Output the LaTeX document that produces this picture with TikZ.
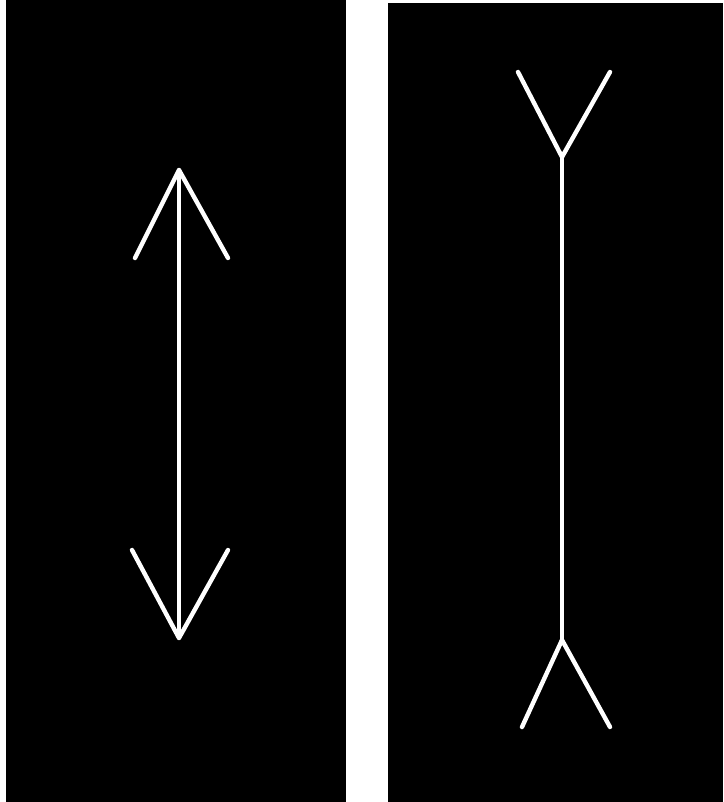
\documentclass[tikz,border=0pt]{standalone}
\begin{document}
\begin{tikzpicture}
[x=1pt,y=-1pt,panel/.style={fill=black},line/.style={draw=white, line width=4.4pt, line cap=round, line join=round}]
\def \lx {179}
\def \rx {562}
\useasboundingbox[fill=white] (0,0) rectangle (723,802);
\fill[panel] (6,0) rectangle (346,802);
\fill[panel] (388,3) rectangle (723,802);
% left figure, arrowheads pointing out
\coordinate (ltop) at (\lx,170);
\coordinate (lbot) at (\lx,638);
\coordinate (ltl) at (135,258);
\coordinate (ltr) at (228,258);
\coordinate (lbl) at (132,550);
\coordinate (lbr) at (228,550);
\draw[line] (ltop) to (lbot);
\draw[line] (ltl) to (ltop) to (ltr);
\draw[line] (lbl) to (lbot) to (lbr);
% right figure, fins pointing in
\coordinate (rtop) at (\rx,157);
\coordinate (rbot) at (\rx,640);
\coordinate (rtl) at (518,72);
\coordinate (rtr) at (610,72);
\coordinate (rbl) at (522,727);
\coordinate (rbr) at (610,727);
\draw[line] (rtop) to (rbot);
\draw[line] (rtl) to (rtop) to (rtr);
\draw[line] (rbl) to (rbot) to (rbr);
\end{tikzpicture}
\end{document}
